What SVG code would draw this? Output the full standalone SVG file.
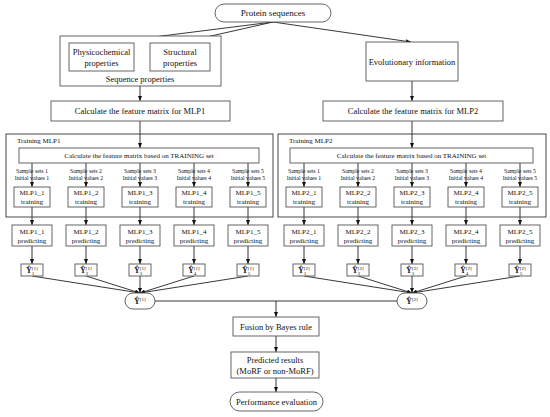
<svg xmlns="http://www.w3.org/2000/svg" width="550" height="417" viewBox="0 0 550 417">
<style>
.b{fill:#fff;stroke:#555;stroke-width:0.9}
.o{fill:none;stroke:#333;stroke-width:0.9}
.c{fill:none;stroke:#222;stroke-width:0.9}
text{font-family:"Liberation Serif","Times New Roman",serif;fill:#111;text-anchor:middle}
.t85{font-size:8.5px}
.t7{font-size:7px}
.t65{font-size:5.8px}
.y{font-size:7.5px;font-weight:bold}
.s{font-size:5px;font-weight:normal}
</style>
<defs>
<marker id="a" markerWidth="5" markerHeight="4" refX="5" refY="2" orient="auto" markerUnits="userSpaceOnUse">
<path d="M0,0 L5,2 L0,4 z" fill="#111"/>
</marker>
</defs>
<rect width="550" height="417" fill="#fff"/>

<g id="connectors" class="c" marker-end="url(#a)">
<line x1="273" y1="22" x2="106" y2="43"/>
<line x1="273" y1="22" x2="180" y2="43"/>
<line x1="273" y1="22" x2="411" y2="42"/>
<line x1="140" y1="86" x2="140" y2="101"/>
<line x1="412" y1="81" x2="412" y2="101"/>
<line x1="140" y1="121" x2="140" y2="148"/>
<line x1="412" y1="121" x2="412" y2="148"/>
<line x1="32" y1="163" x2="32" y2="187"/>
<line x1="86" y1="163" x2="86" y2="187"/>
<line x1="140" y1="163" x2="140" y2="187"/>
<line x1="194" y1="163" x2="194" y2="187"/>
<line x1="248" y1="163" x2="248" y2="187"/>
<line x1="304" y1="163" x2="304" y2="187"/>
<line x1="358" y1="163" x2="358" y2="187"/>
<line x1="412" y1="163" x2="412" y2="187"/>
<line x1="466" y1="163" x2="466" y2="187"/>
<line x1="520" y1="163" x2="520" y2="187"/>
<line x1="32" y1="207" x2="32" y2="225"/>
<line x1="86" y1="207" x2="86" y2="225"/>
<line x1="140" y1="207" x2="140" y2="225"/>
<line x1="194" y1="207" x2="194" y2="225"/>
<line x1="248" y1="207" x2="248" y2="225"/>
<line x1="304" y1="207" x2="304" y2="225"/>
<line x1="358" y1="207" x2="358" y2="225"/>
<line x1="412" y1="207" x2="412" y2="225"/>
<line x1="466" y1="207" x2="466" y2="225"/>
<line x1="520" y1="207" x2="520" y2="225"/>
<line x1="32" y1="246" x2="32" y2="264"/>
<line x1="86" y1="246" x2="86" y2="264"/>
<line x1="140" y1="246" x2="140" y2="264"/>
<line x1="194" y1="246" x2="194" y2="264"/>
<line x1="248" y1="246" x2="248" y2="264"/>
<line x1="304" y1="246" x2="304" y2="264"/>
<line x1="358" y1="246" x2="358" y2="264"/>
<line x1="412" y1="246" x2="412" y2="264"/>
<line x1="466" y1="246" x2="466" y2="264"/>
<line x1="520" y1="246" x2="520" y2="264"/>
<line x1="32" y1="276" x2="140" y2="293"/>
<line x1="86" y1="276" x2="140" y2="293"/>
<line x1="140" y1="276" x2="140" y2="293"/>
<line x1="194" y1="276" x2="140" y2="293"/>
<line x1="248" y1="276" x2="140" y2="293"/>
<line x1="304" y1="276" x2="412" y2="293"/>
<line x1="358" y1="276" x2="412" y2="293"/>
<line x1="412" y1="276" x2="412" y2="293"/>
<line x1="466" y1="276" x2="412" y2="293"/>
<line x1="520" y1="276" x2="412" y2="293"/>
<line x1="276" y1="301" x2="276" y2="317"/>
<line x1="276" y1="336" x2="276" y2="352"/>
<line x1="276" y1="378" x2="276" y2="392"/>
<line x1="155" y1="301" x2="397" y2="301" marker-end="none"/>
</g>

<g id="protein"><rect class="b" x="215" y="4" width="116" height="18" rx="9"/><text class="t85" x="273" y="16" style="font-size:9px">Protein sequences</text></g>

<g id="seqprops"><rect class="b" x="60" y="36" width="161" height="50"/><text class="t85" x="140" y="82">Sequence properties</text></g>
<g id="physico"><rect class="b" x="69" y="43" width="65" height="28"/><text class="t85" x="101.5" y="55">Physicochemical</text><text class="t85" x="101.5" y="66">properties</text></g>
<g id="structural"><rect class="b" x="150" y="43" width="60" height="28"/><text class="t85" x="180" y="55">Structural</text><text class="t85" x="180" y="66">properties</text></g>
<g id="evol"><rect class="b" x="366" y="42" width="92" height="39"/><text class="t85" x="412" y="65">Evolutionary information</text></g>

<g id="calc1"><rect class="b" x="51" y="101" width="179" height="20"/><text class="t85" x="140" y="114">Calculate the feature matrix for MLP1</text></g>
<g id="calc2"><rect class="b" x="323" y="101" width="180" height="20"/><text class="t85" x="413" y="114">Calculate the feature matrix for MLP2</text></g>

<g id="train1"><rect class="o" x="6" y="134" width="267" height="83"/><text class="t7" x="17" y="143" style="text-anchor:start">Training MLP1</text></g>
<g id="train2"><rect class="o" x="278" y="134" width="268" height="83"/><text class="t7" x="289" y="143" style="text-anchor:start">Training MLP2</text></g>

<g id="inner1"><rect class="b" x="19" y="148" width="240" height="15"/><text class="t7" x="139" y="158">Calculate the feature matrix based on TRAINING set</text></g>
<g id="inner2"><rect class="b" x="290" y="148" width="243" height="15"/><text class="t7" x="411.5" y="158">Calculate the feature matrix based on TRAINING set</text></g>

<g id="samples">
<text class="t65" x="32" y="172.5">Sample sets 1</text><text class="t65" x="32" y="179.5">Initial values 1</text>
<text class="t65" x="86" y="172.5">Sample sets 2</text><text class="t65" x="86" y="179.5">Initial values 2</text>
<text class="t65" x="140" y="172.5">Sample sets 3</text><text class="t65" x="140" y="179.5">Initial values 3</text>
<text class="t65" x="194" y="172.5">Sample sets 4</text><text class="t65" x="194" y="179.5">Initial values 4</text>
<text class="t65" x="248" y="172.5">Sample sets 5</text><text class="t65" x="248" y="179.5">Initial values 5</text>
<text class="t65" x="304" y="172.5">Sample sets 1</text><text class="t65" x="304" y="179.5">Initial values 1</text>
<text class="t65" x="358" y="172.5">Sample sets 2</text><text class="t65" x="358" y="179.5">Initial values 2</text>
<text class="t65" x="412" y="172.5">Sample sets 3</text><text class="t65" x="412" y="179.5">Initial values 3</text>
<text class="t65" x="466" y="172.5">Sample sets 4</text><text class="t65" x="466" y="179.5">Initial values 4</text>
<text class="t65" x="520" y="172.5">Sample sets 5</text><text class="t65" x="520" y="179.5">Initial values 5</text>
</g>

<g id="mlp1_1_t"><rect class="b" x="14" y="187" width="36" height="20"/><text class="t7" x="32" y="195">MLP1_1</text><text class="t7" x="32" y="204">training</text></g>
<g id="mlp1_2_t"><rect class="b" x="68" y="187" width="36" height="20"/><text class="t7" x="86" y="195">MLP1_2</text><text class="t7" x="86" y="204">training</text></g>
<g id="mlp1_3_t"><rect class="b" x="122" y="187" width="36" height="20"/><text class="t7" x="140" y="195">MLP1_3</text><text class="t7" x="140" y="204">training</text></g>
<g id="mlp1_4_t"><rect class="b" x="176" y="187" width="36" height="20"/><text class="t7" x="194" y="195">MLP1_4</text><text class="t7" x="194" y="204">training</text></g>
<g id="mlp1_5_t"><rect class="b" x="230" y="187" width="36" height="20"/><text class="t7" x="248" y="195">MLP1_5</text><text class="t7" x="248" y="204">training</text></g>
<g id="mlp2_1_t"><rect class="b" x="286" y="187" width="36" height="20"/><text class="t7" x="304" y="195">MLP2_1</text><text class="t7" x="304" y="204">training</text></g>
<g id="mlp2_2_t"><rect class="b" x="340" y="187" width="36" height="20"/><text class="t7" x="358" y="195">MLP2_2</text><text class="t7" x="358" y="204">training</text></g>
<g id="mlp2_3_t"><rect class="b" x="394" y="187" width="36" height="20"/><text class="t7" x="412" y="195">MLP2_3</text><text class="t7" x="412" y="204">training</text></g>
<g id="mlp2_4_t"><rect class="b" x="448" y="187" width="36" height="20"/><text class="t7" x="466" y="195">MLP2_4</text><text class="t7" x="466" y="204">training</text></g>
<g id="mlp2_5_t"><rect class="b" x="502" y="187" width="36" height="20"/><text class="t7" x="520" y="195">MLP2_5</text><text class="t7" x="520" y="204">training</text></g>

<g id="mlp1_1_p"><rect class="b" x="12" y="225" width="40" height="21"/><text class="t7" x="32" y="234">MLP1_1</text><text class="t7" x="32" y="243">predicting</text></g>
<g id="mlp1_2_p"><rect class="b" x="66" y="225" width="40" height="21"/><text class="t7" x="86" y="234">MLP1_2</text><text class="t7" x="86" y="243">predicting</text></g>
<g id="mlp1_3_p"><rect class="b" x="120" y="225" width="40" height="21"/><text class="t7" x="140" y="234">MLP1_3</text><text class="t7" x="140" y="243">predicting</text></g>
<g id="mlp1_4_p"><rect class="b" x="174" y="225" width="40" height="21"/><text class="t7" x="194" y="234">MLP1_4</text><text class="t7" x="194" y="243">predicting</text></g>
<g id="mlp1_5_p"><rect class="b" x="228" y="225" width="40" height="21"/><text class="t7" x="248" y="234">MLP1_5</text><text class="t7" x="248" y="243">predicting</text></g>
<g id="mlp2_1_p"><rect class="b" x="284" y="225" width="40" height="21"/><text class="t7" x="304" y="234">MLP2_1</text><text class="t7" x="304" y="243">predicting</text></g>
<g id="mlp2_2_p"><rect class="b" x="338" y="225" width="40" height="21"/><text class="t7" x="358" y="234">MLP2_2</text><text class="t7" x="358" y="243">predicting</text></g>
<g id="mlp2_3_p"><rect class="b" x="392" y="225" width="40" height="21"/><text class="t7" x="412" y="234">MLP2_3</text><text class="t7" x="412" y="243">predicting</text></g>
<g id="mlp2_4_p"><rect class="b" x="446" y="225" width="40" height="21"/><text class="t7" x="466" y="234">MLP2_4</text><text class="t7" x="466" y="243">predicting</text></g>
<g id="mlp2_5_p"><rect class="b" x="500" y="225" width="40" height="21"/><text class="t7" x="520" y="234">MLP2_5</text><text class="t7" x="520" y="243">predicting</text></g>

<g id="y1_1"><rect class="b" x="21" y="264" width="22" height="12"/><text class="y" x="32" y="273">Ŷ<tspan class="s" dy="1.5">1</tspan><tspan class="s" dx="-2.5" dy="-4.5">[1]</tspan></text></g>
<g id="y1_2"><rect class="b" x="75" y="264" width="22" height="12"/><text class="y" x="86" y="273">Ŷ<tspan class="s" dy="1.5">2</tspan><tspan class="s" dx="-2.5" dy="-4.5">[1]</tspan></text></g>
<g id="y1_3"><rect class="b" x="129" y="264" width="22" height="12"/><text class="y" x="140" y="273">Ŷ<tspan class="s" dy="1.5">3</tspan><tspan class="s" dx="-2.5" dy="-4.5">[1]</tspan></text></g>
<g id="y1_4"><rect class="b" x="183" y="264" width="22" height="12"/><text class="y" x="194" y="273">Ŷ<tspan class="s" dy="1.5">4</tspan><tspan class="s" dx="-2.5" dy="-4.5">[1]</tspan></text></g>
<g id="y1_5"><rect class="b" x="237" y="264" width="22" height="12"/><text class="y" x="248" y="273">Ŷ<tspan class="s" dy="1.5">5</tspan><tspan class="s" dx="-2.5" dy="-4.5">[1]</tspan></text></g>
<g id="y2_1"><rect class="b" x="293" y="264" width="22" height="12"/><text class="y" x="304" y="273">Ŷ<tspan class="s" dy="1.5">1</tspan><tspan class="s" dx="-2.5" dy="-4.5">[2]</tspan></text></g>
<g id="y2_2"><rect class="b" x="347" y="264" width="22" height="12"/><text class="y" x="358" y="273">Ŷ<tspan class="s" dy="1.5">2</tspan><tspan class="s" dx="-2.5" dy="-4.5">[2]</tspan></text></g>
<g id="y2_3"><rect class="b" x="401" y="264" width="22" height="12"/><text class="y" x="412" y="273">Ŷ<tspan class="s" dy="1.5">3</tspan><tspan class="s" dx="-2.5" dy="-4.5">[2]</tspan></text></g>
<g id="y2_4"><rect class="b" x="455" y="264" width="22" height="12"/><text class="y" x="466" y="273">Ŷ<tspan class="s" dy="1.5">4</tspan><tspan class="s" dx="-2.5" dy="-4.5">[2]</tspan></text></g>
<g id="y2_5"><rect class="b" x="509" y="264" width="22" height="12"/><text class="y" x="520" y="273">Ŷ<tspan class="s" dy="1.5">5</tspan><tspan class="s" dx="-2.5" dy="-4.5">[2]</tspan></text></g>

<g id="yhat1"><rect class="b" x="125" y="293" width="30" height="16" rx="8"/><text class="y" x="140" y="304">Ŷ<tspan class="s" dy="-3">[1]</tspan></text></g>
<g id="yhat2"><rect class="b" x="397" y="293" width="30" height="16" rx="8"/><text class="y" x="412" y="304">Ŷ<tspan class="s" dy="-3">[2]</tspan></text></g>

<g id="fusion"><rect class="b" x="233" y="317" width="86" height="19"/><text class="t85" x="276" y="329.5">Fusion by Bayes rule</text></g>
<g id="predicted"><rect class="b" x="231" y="352" width="88" height="26"/><text class="t85" x="275" y="362.5">Predicted results</text><text class="t85" x="275" y="374">(MoRF or non-MoRF)</text></g>
<g id="perf"><rect class="b" x="230" y="392" width="93" height="19" rx="9.5"/><text class="t85" x="276.5" y="404.5">Performance evaluation</text></g>
</svg>
